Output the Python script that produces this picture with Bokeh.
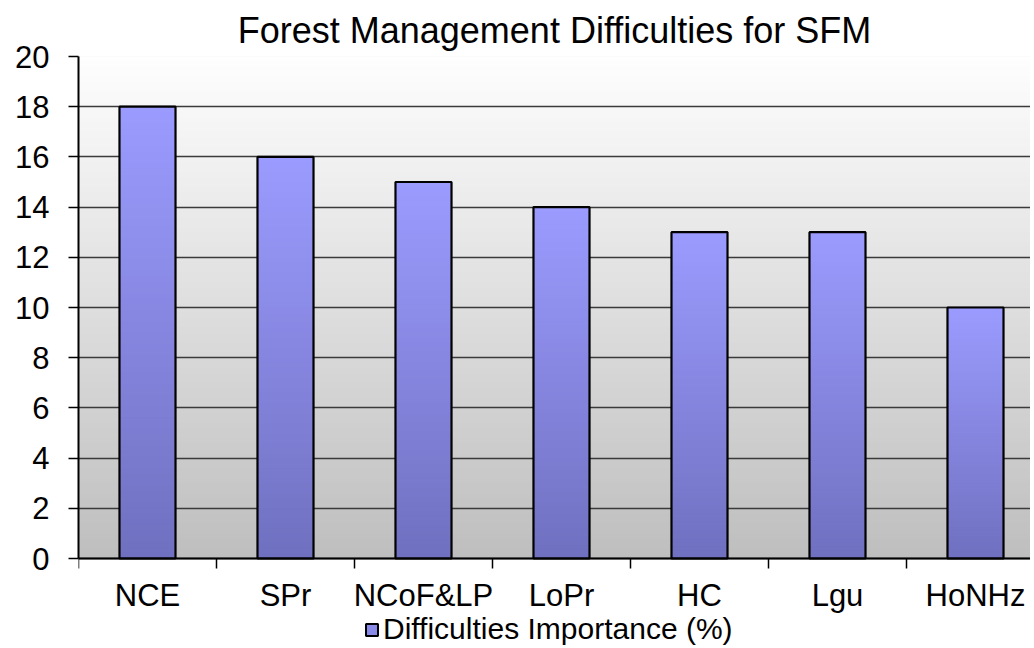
import numpy as np
from bokeh.plotting import figure
from bokeh.models import (Range1d, FixedTicker, Legend, LegendItem,
                          ColumnDataSource, Span)
from bokeh.core.properties import value
from bokeh.embed import file_html
from bokeh.resources import INLINE

# ---- data ----
categories = ["NCE", "SPr", "NCoF&LP", "LoPr", "HC", "Lgu", "HoNHz"]
values = [18, 16, 15, 14, 13, 13, 10]
y_ticks = [0, 2, 4, 6, 8, 10, 12, 14, 16, 18, 20]
title_text = "Forest Management Difficulties for SFM"
series_name = "Difficulties Importance (%)"

FONT = "Liberation Sans"
positions = list(range(1, len(categories) + 1))
boundaries = [q - 0.5 for q in positions] + [positions[-1] + 0.5]
y_max = y_ticks[-1]

# ---- layout geometry (pixels) ----
W, H = 1030, 646
FRAME_L, FRAME_T, ZERO_Y = 78, 56, 558
CAT_PX = 138.0
px_per_unit = (ZERO_Y - FRAME_T) / y_max
y_lo = -(H - ZERO_Y) / px_per_unit

p = figure(width=W, height=H, output_backend="svg", toolbar_location=None,
           x_range=Range1d(0.5, 0.5 + (W - FRAME_L) / CAT_PX),
           y_range=Range1d(y_lo, y_max), x_axis_location=None,
           min_border_left=FRAME_L, min_border_right=0, min_border_top=FRAME_T,
           min_border_bottom=0)
p.outline_line_color = None
p.background_fill_color = "white"
p.border_fill_color = "white"

# title
p.title.text = title_text
p.title.align = "center"
p.title.offset = 6
p.title.text_font = FONT
p.title.text_font_size = "36px"
p.title.text_font_style = "normal"
p.title.text_color = "black"
p.title.standoff = 11

# ---- background gradient (styling only) ----
n_bg = 100
edges = np.linspace(0, y_max, n_bg + 1)
bg_cols = []
for e0 in edges[:-1]:
    f = (e0 + y_max / n_bg / 2) / y_max
    c = int(round(190 + (254 - 190) * f))
    bg_cols.append("#%02x%02x%02x" % (c, c, c))
bg = p.quad(left=0, right=9, bottom=edges[:-1], top=y_max, fill_color=bg_cols,
            line_color=None)
bg.level = "image"

# gridlines
p.xgrid.visible = False
p.ygrid.ticker = FixedTicker(ticks=y_ticks)
p.ygrid.grid_line_color = "#3a3a3a"
p.ygrid.grid_line_width = 1.4
p.ygrid.level = "underlay"

# ---- gradient bars ----
bw = 0.406
n_s = 80
L, R, B, T, C = [], [], [], [], []
for x, v in zip(positions, values):
    e = np.linspace(0, v, n_s + 1)
    for i in range(n_s):
        f = (i + 0.5) / n_s
        r = int(round(112 + (155 - 112) * f))
        g = int(round(112 + (155 - 112) * f))
        b = int(round(192 + (255 - 192) * f))
        L.append(x - bw / 2); R.append(x + bw / 2)
        B.append(e[i]); T.append(v)
        C.append("#%02x%02x%02x" % (r, g, b))
p.quad(left=L, right=R, bottom=B, top=T, fill_color=C, line_color=None)

src = ColumnDataSource(dict(x=positions, top=values))
p.vbar(x="x", top="top", bottom=0, width=bw, source=src, fill_color=None,
       line_color="black", line_width=2.2)

# ---- category axis (drawn at y = 0) ----
p.add_layout(Span(location=0, dimension="width", line_color="black",
                  line_width=2))
tick_len = 10 / px_per_unit
p.segment(x0=boundaries, x1=boundaries, y0=[0] * len(boundaries),
          y1=[-tick_len] * len(boundaries), line_color="black", line_width=1.5)
p.text(x=positions, y=[0] * len(positions), text=categories,
       y_offset=37, text_align="center", text_baseline="middle",
       text_font=value(FONT), text_font_size="31px", text_color="black")

# legend proxy (outside visible range)
proxy = p.quad(left=[1], right=[1.1], bottom=[y_lo - 5], top=[y_lo - 4],
               fill_color="#8a8ae8", line_color="black", line_width=2)
legend = Legend(items=[LegendItem(label=series_name, renderers=[proxy])],
                location=(286, 0), orientation="horizontal",
                background_fill_alpha=0, border_line_color=None,
                padding=0, margin=0, glyph_width=15, glyph_height=15,
                label_text_font=FONT, label_text_font_size="30px",
                label_standoff=4, label_text_color="black")
p.add_layout(legend, "center")

# ---- y axis ----
yax = p.yaxis[0]
yax.bounds = (0, y_max)
yax.ticker = FixedTicker(ticks=y_ticks)
yax.axis_line_color = "black"
yax.axis_line_width = 2
yax.major_tick_line_color = "black"
yax.major_tick_line_width = 1.5
yax.major_tick_out = 10
yax.major_tick_in = 0
yax.minor_tick_line_color = None
yax.major_label_standoff = 19
yax.major_label_text_font = FONT
yax.major_label_text_font_size = "31px"
yax.major_label_text_color = "black"

open("out.html", "w").write(file_html(p, INLINE))
